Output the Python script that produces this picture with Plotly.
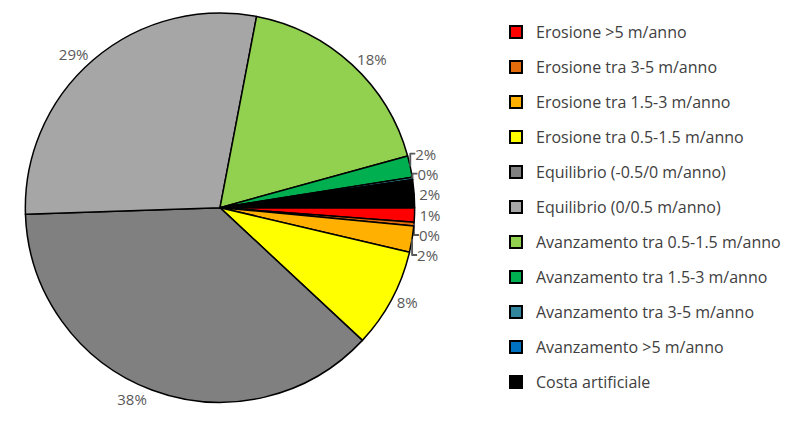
import plotly.graph_objects as go

categories = [
    "Erosione >5 m/anno",
    "Erosione tra 3-5 m/anno",
    "Erosione tra 1.5-3 m/anno",
    "Erosione tra 0.5-1.5 m/anno",
    "Equilibrio (-0.5/0 m/anno)",
    "Equilibrio (0/0.5 m/anno)",
    "Avanzamento tra 0.5-1.5 m/anno",
    "Avanzamento tra 1.5-3 m/anno",
    "Avanzamento tra 3-5 m/anno",
    "Avanzamento >5 m/anno",
    "Costa artificiale",
]
values = [1.2, 0.3, 2.2, 8.3, 37.7, 28.7, 17.8, 1.8, 0.2, 0.0, 2.3]
colors = ["#FF0000", "#E46C0A", "#FFB000", "#FFFF00", "#808080", "#A6A6A6",
          "#92D050", "#00B050", "#31859C", "#0070C0", "#000000"]

FONT = "Open Sans"
TXT = "#595959"

templates = ["%{percent:.0%}" if v > 0 else "" for v in values]

fig = go.Figure()
fig.add_trace(go.Pie(
    labels=categories, values=values, sort=False, direction="clockwise",
    rotation=90, showlegend=False,
    marker=dict(colors=colors, line=dict(color="#000000", width=1.5)),
    texttemplate=templates, textposition="outside",
    textfont=dict(family=FONT, size=15, color=TXT),
    domain=dict(x=[13/790, 411/790], y=[(421-394)/421, (421-0)/421]),
    hoverinfo="label+percent",
))
for i, (c, col) in enumerate(zip(categories, colors)):
    fig.add_trace(go.Scatter(
        x=[None], y=[None], mode="markers", name=c, legendgroup=f"g{i}",
        marker=dict(symbol="square", size=11, color=col,
                    line=dict(color="#000000", width=2)),
    ))

fig.update_layout(
    width=790, height=421, margin=dict(l=0, r=0, t=0, b=0),
    paper_bgcolor="white", plot_bgcolor="white",
    xaxis=dict(visible=False), yaxis=dict(visible=False),
    legend=dict(x=488/790, y=1 - 2/421, xanchor="left", yanchor="top",
                font=dict(family=FONT, size=16, color="#404040"),
                tracegroupgap=11.2, itemsizing="constant"),
)
fig.write_html("out.html")
